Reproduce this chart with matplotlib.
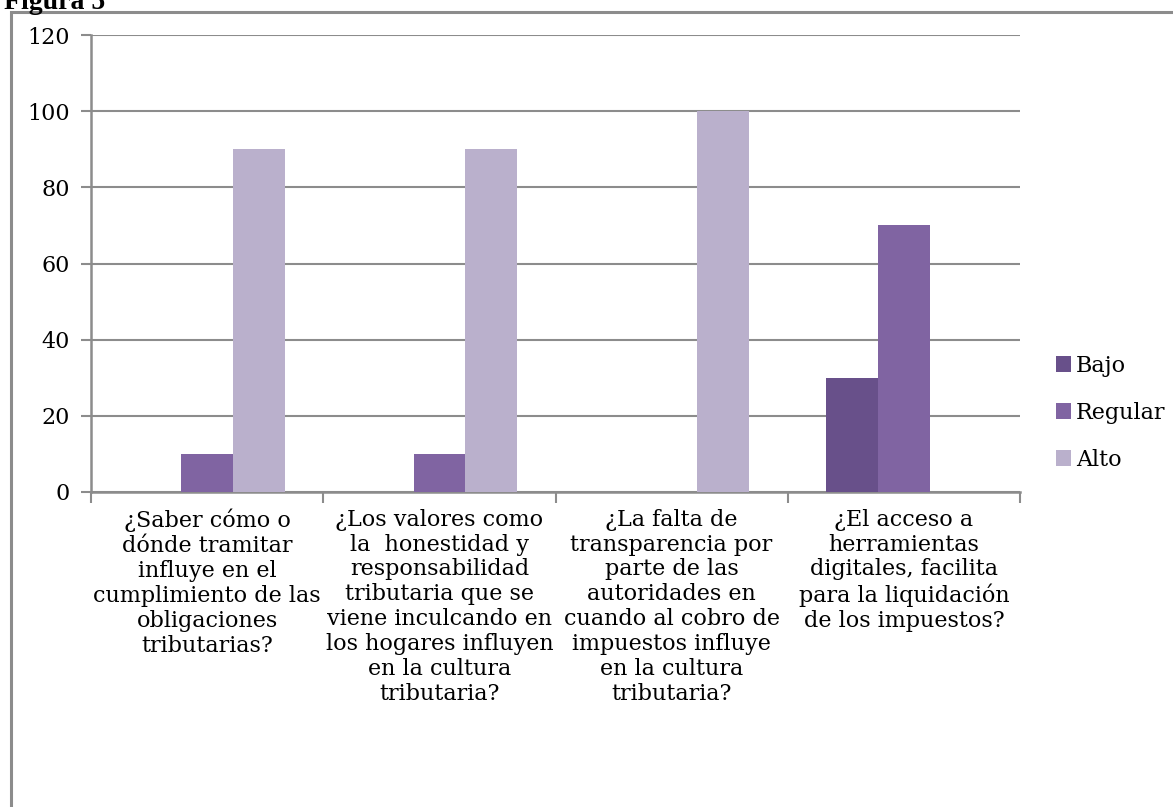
import matplotlib
matplotlib.use("Agg")
import matplotlib.pyplot as plt
import numpy as np
from matplotlib.patches import Rectangle

categories = [
    "¿Saber cómo o\ndónde tramitar\ninfluye en el\ncumplimiento de las\nobligaciones\ntributarias?",
    "¿Los valores como\nla  honestidad y\nresponsabilidad\ntributaria que se\nviene inculcando en\nlos hogares influyen\nen la cultura\ntributaria?",
    "¿La falta de\ntransparencia por\nparte de las\nautoridades en\ncuando al cobro de\nimpuestos influye\nen la cultura\ntributaria?",
    "¿El acceso a\nherramientas\ndigitales, facilita\npara la liquidación\nde los impuestos?",
]
series_names = ["Bajo", "Regular", "Alto"]
bajo = [0, 0, 0, 30]
regular = [10, 10, 0, 70]
alto = [90, 90, 100, 0]
yticks = [0, 20, 40, 60, 80, 100, 120]

colors = ["#68508A", "#8064A2", "#BAB0CC"]
FONT = "DejaVu Serif"
FS = 16

W, H = 1173, 807
fig = plt.figure(figsize=(W / 100, H / 100), dpi=100)

# outer chart border
fig.patches.append(Rectangle((11 / W, -0.01), 1.2, 1 - 12 / H + 0.01,
                             transform=fig.transFigure, fill=False,
                             edgecolor="#8C8C8C", linewidth=2.2))
fig.text(4 / W, 1 - 9 / H, "Figura 5", fontfamily="Liberation Serif",
         fontweight="bold", fontsize=20, va="baseline", ha="left")

ax = fig.add_axes([91 / W, 1 - 492 / H, (1020 - 91) / W, (492 - 35) / H])
x = np.arange(len(categories))
bw = 1 / 4.5
for i, (name, vals) in enumerate(zip(series_names, [bajo, regular, alto])):
    ax.bar(x + (i - 1) * bw, vals, width=bw, color=colors[i], label=name,
           zorder=3, linewidth=0)

ax.set_xlim(-0.5, len(categories) - 0.5)
ax.set_ylim(0, 120)
ax.set_yticks(yticks)
ax.set_yticklabels([str(v) for v in yticks], fontfamily=FONT, fontsize=FS)
ax.yaxis.grid(True, color="#8C8C8C", linewidth=1.5, zorder=0)
ax.set_axisbelow(True)

ax.set_xticks(np.arange(-0.5, len(categories) + 0.5, 1))
ax.set_xticklabels([])
ax.set_xticks(x, minor=True)
ax.set_xticklabels(categories, minor=True, fontfamily=FONT, fontsize=FS,
                   linespacing=1.17, va="top")
ax.tick_params(axis="x", which="minor", length=0, pad=12)
ax.tick_params(axis="x", which="major", length=8, width=1.5, color="#8C8C8C",
               direction="out")
ax.tick_params(axis="y", length=7, width=1.5, color="#8C8C8C", pad=8)

for s in ["top", "right"]:
    ax.spines[s].set_visible(False)
for s in ["left", "bottom"]:
    ax.spines[s].set_color("#8C8C8C")
    ax.spines[s].set_linewidth(1.8)

leg = ax.legend(loc="center left", bbox_to_anchor=(1.029, 0.173),
                frameon=False, prop={"family": FONT, "size": FS},
                handlelength=0.7, handleheight=0.7, handletextpad=0.2,
                labelspacing=1.12, borderaxespad=0)

fig.savefig("out.png", dpi=100)
